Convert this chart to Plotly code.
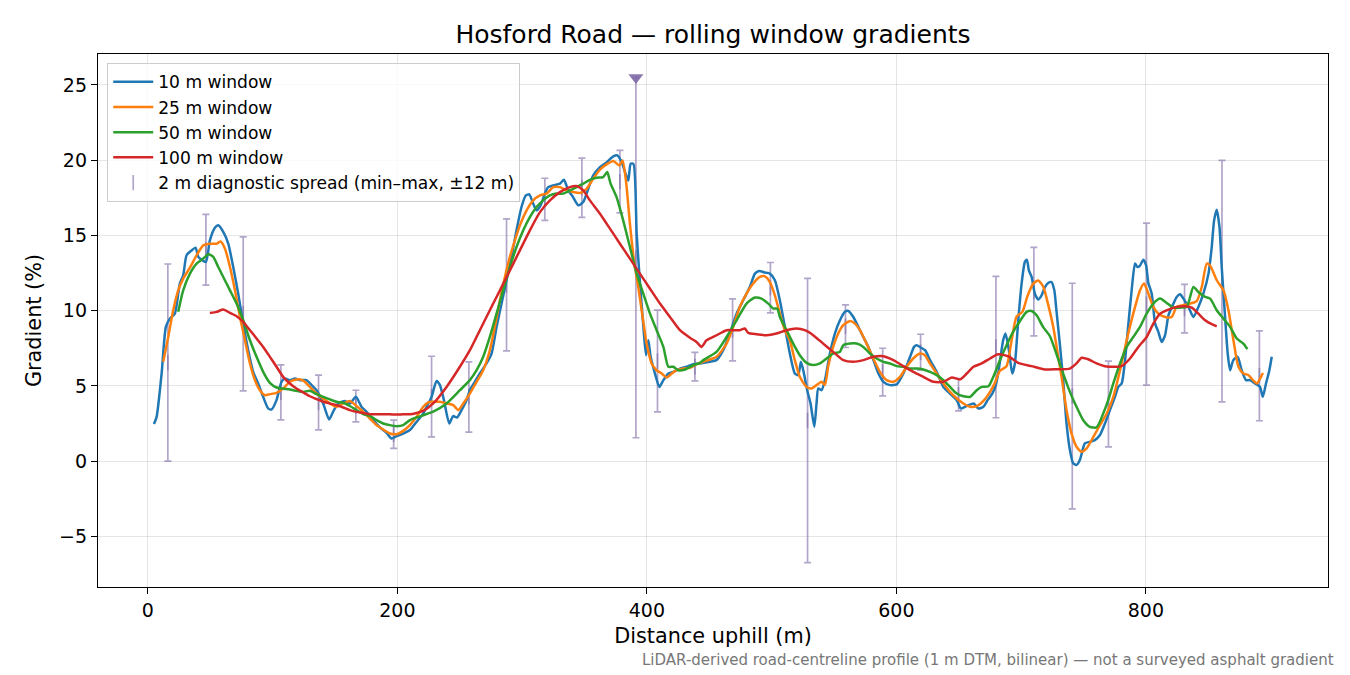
import plotly.graph_objects as go

# ---------------- data ----------------
w10_x = [4.8, 7.0, 11, 14.4, 17.6, 21.6, 25.6, 28.3, 31, 35, 38.2, 40.4, 43, 46.5, 49.7, 53.7, 56.4, 60.4, 64.4, 68.4,
         72.4, 76.4, 80.4, 84.4, 88.4, 92.4, 96.4, 99.1, 103.1, 107.1, 109.8, 113.8, 117.8, 121.8, 127.1, 131.2, 135.2,
         140.5, 145.3, 149.1, 152.6, 157.9, 161.9, 166.7, 171.3, 175.3, 180.6, 186, 191.3, 195.3, 199.3, 204.7, 210,
         215.4, 220.7, 223.4, 227.4, 231.4, 234.1, 237.3, 241.6, 244.7, 247.9, 251.4, 255.4, 258.1, 262.1, 266.1, 271.4,
         275.5, 279.5, 283.5, 287.5, 291.5, 295.5, 299.5, 303, 305.7, 308.9, 311.6, 314.8, 318.2, 320.9, 324.9, 330.3,
         333.5, 337, 340.4, 345, 349, 353, 357, 362.4, 367.8, 373.1, 376.3, 379.8, 382.5, 385.1, 387, 389.2, 391.8,
         394.5, 397.2, 399.3, 401.2, 403, 406.5, 410, 413.2, 417.2, 421.2, 426.5, 431.9, 437.2, 442.5, 450.5, 455.8,
         461.2, 466.5, 471.9, 477.2, 482.5, 486.6, 490, 494.6, 498.6, 502.6, 506.6, 510.6, 514.6, 518.6, 521.3, 523.5,
         525.9, 528.5, 531.2, 534.2, 536, 537.4, 540, 542.7, 546.7, 550.7, 554.8, 558.8, 561.5, 565.5, 569.5, 573.5,
         577.5, 581.6, 585.6, 589.6, 594.9, 600.3, 605.6, 611, 614.2, 616.3, 619.5, 623, 627, 632.3, 637.7, 643, 648.4,
         651.6, 655.1, 661.8, 665.8, 669.8, 673.5, 677, 679.5, 681.6, 685.6, 687.5, 690.2, 692.9, 695, 697.7, 700.4,
         703, 704.6, 706.2, 708.4, 711, 713.7, 716.4, 719.1, 721.7, 724.4, 726.6, 728.2, 731, 733.8, 736.4, 739.1,
         741.7, 744.4, 747.1, 751.1, 755.1, 759.1, 763.2, 767.2, 771.2, 775.2, 777.9, 780.6, 783.3, 786, 788.6, 791.3,
         793.2, 795.3, 798, 800.2, 802, 804.7, 807.4, 810, 812.7, 815.4, 818.1, 822.1, 824.7, 827.4, 830.1, 834.1,
         838.1, 842.1, 846.1, 850.2, 852.8, 854.7, 856.8, 859, 860.8, 863.5, 865.6, 867.5, 870.1, 873.6, 876.8, 880.3,
         883.5, 887.5, 891.5, 893.7, 896.3, 899, 900.9]
w10_y = [2.46, 2.94, 5.82, 8.92, 9.47, 9.8, 11.8, 12.35, 13.68, 14.0, 14.19, 13.57, 13.39, 13.24, 14.67, 15.51, 15.67,
         15.23, 14.45, 12.9, 11.13, 9.14, 7.37, 5.93, 5.16, 4.27, 3.5, 3.43, 4.05, 5.27, 5.49, 5.38, 5.49, 5.38, 5.38,
         5.05, 4.71, 3.83, 2.77, 3.39, 3.83, 4.0, 3.83, 4.27, 3.6, 3.27, 2.72, 2.24, 1.88, 1.5, 1.66, 1.83, 2.06, 2.61,
         3.16, 3.61, 4.27, 5.33, 5.05, 4.05, 2.5, 2.99, 2.9, 3.39, 4.05, 4.71, 5.27, 5.82, 6.49, 7.15, 8.92, 10.47,
         12.02, 13.57, 15.34, 16.89, 17.66, 17.73, 17.11, 16.67, 17.0, 17.78, 18.21, 18.32, 18.44, 18.7, 17.99, 17.6,
         17.0, 17.22, 18.1, 18.99, 19.54, 19.87, 20.25, 20.32, 19.87, 19.21, 18.65, 19.76, 19.76, 15.12, 11.8, 8.92,
         7.04, 8.03, 6.93, 5.82, 4.93, 5.38, 5.82, 5.93, 6.15, 6.27, 6.44, 6.49, 6.6, 6.71, 7.37, 8.48, 9.8, 10.69,
         11.57, 12.46, 12.64, 12.53, 12.46, 12.02, 10.69, 8.92, 7.15, 5.82, 5.71, 6.6, 5.82, 4.71, 3.83, 2.28, 3.83,
         4.83, 4.71, 5.38, 7.15, 8.48, 9.36, 9.92, 9.98, 9.58, 8.92, 8.25, 7.59, 6.71, 5.82, 5.27, 5.05, 5.1, 5.82,
         6.93, 7.59, 7.7, 7.55, 7.37, 6.71, 5.93, 4.93, 4.49, 4.05, 3.5, 3.61, 3.83, 3.5, 3.61, 4.1, 4.5, 5.0, 5.82,
         8.03, 8.48, 7.37, 5.82, 6.49, 9.36, 11.8, 13.24, 13.39, 12.68, 12.24, 11.13, 10.74, 11.02, 11.57, 11.84,
         11.9, 11.35, 10.1, 7.8, 5.3, 2.5, 0.73, -0.15, -0.26, 0.07, 1.17, 1.28, 1.39, 1.73, 2.5, 3.39, 4.27, 4.93,
         5.16, 6.71, 9.14, 11.35, 13.13, 12.9, 13.0, 13.39, 13.0, 11.84, 11.13, 9.14, 8.59, 7.92, 8.37, 9.69, 10.47,
         10.91, 11.09, 10.8, 10.25, 9.58, 10.25, 11.13, 12.46, 14.23, 16.0, 16.71, 15.56, 12.9, 9.58, 7.15, 6.04,
         6.71, 6.93, 6.04, 5.38, 5.38, 5.16, 4.93, 4.27, 5.16, 6.04, 6.93]

w25_x = [12.3, 16.3, 20.3, 24.3, 28.3, 33.7, 39, 44.4, 49.7, 55.1, 58.3, 61.8, 65.8, 69.8, 73.8, 77.8, 81.8, 85.8, 89.8,
         93.8, 97.8, 103.1, 108.4, 113.8, 119.1, 124.5, 129.8, 135.2, 140.5, 145.9, 151.2, 156.6, 161.9, 167.2, 172.6,
         177.9, 183.3, 188.6, 194, 199.3, 204.7, 210, 215.4, 220.7, 224.7, 228.7, 234.1, 239.4, 244.7, 248.8, 252.8,
         258.1, 263.5, 268.8, 274.1, 278.1, 282.2, 286.2, 290.2, 294.2, 298.2, 303.6, 308.9, 314.3, 319.6, 324.9,
         330.3, 335.6, 341, 346.3, 351.6, 357, 362.4, 367.7, 373.1, 377.9, 380.5, 383.2, 386.4, 389.6, 393.1, 396.6,
         399.8, 403.8, 407.8, 411.9, 415.9, 419.9, 423.9, 429.3, 434.6, 440, 445.2, 455.8, 463.9, 469.2, 474.5, 479.9,
         485.2, 490.6, 494.6, 498.6, 502.6, 506.6, 510.6, 514.6, 518.6, 522.6, 528, 532, 536, 540, 542.7, 545.3,
         549.3, 553.4, 557.4, 562.8, 566.8, 570.8, 576.1, 581.5, 586.8, 592.2, 597.5, 602.9, 608.2, 613.5, 618.9,
         622.9, 626.9, 632.3, 637.7, 643, 648.4, 653.7, 659.1, 664.4, 669.8, 675.1, 679, 683, 688.3, 692.3, 696.3, 701,
         705, 709.7, 713.7, 717.7, 721.7, 725.8, 729.8, 732.4, 736.4, 740.4, 744.4, 748.5, 752.5, 757.9, 763.2, 768.6,
         773.9, 779.3, 784.6, 789.9, 795.3, 798.5, 802, 806, 810, 815.4, 820.7, 824.7, 830.1, 835.4, 840.8, 844.8,
         848.8, 851.5, 856.8, 862.2, 866.2, 870.2, 874.2, 878.2, 882.3, 885.8, 889, 891.6, 893.8]
w25_y = [6.6, 8.25, 10.03, 11.35, 12.13, 12.86, 13.68, 14.34, 14.45, 14.45, 14.6, 14.12, 12.9, 11.35, 9.58, 8.03, 6.49,
         5.38, 4.71, 4.38, 4.45, 4.54, 4.82, 5.27, 5.43, 5.35, 4.93, 4.49, 4.16, 3.83, 3.61, 3.83, 4.0, 3.66, 3.27,
         2.83, 2.39, 2.1, 1.83, 1.79, 2.01, 2.39, 2.94, 3.61, 3.9, 3.94, 3.94, 3.83, 3.72, 3.39, 3.83, 4.49, 5.27,
         6.04, 7.37, 8.92, 10.69, 12.24, 13.57, 14.67, 15.67, 16.67, 17.33, 17.66, 17.78, 18.21, 18.21, 17.99, 17.88,
         17.82, 18.1, 18.77, 19.37, 19.72, 19.94, 19.65, 19.98, 18.65, 15.78, 13.35, 11.57, 9.58, 7.81, 6.49, 6.04,
         5.82, 5.56, 5.82, 6.04, 6.15, 6.2, 6.44, 6.6, 6.93, 7.81, 8.92, 10.25, 11.13, 11.8, 12.24, 12.28, 11.9,
         11.02, 9.8, 8.7, 8.03, 6.71, 5.6, 4.93, 4.83, 5.05, 5.27, 5.05, 6.27, 7.59, 8.48, 9.03, 9.32, 9.14, 8.7, 7.81,
         6.82, 5.93, 5.38, 5.27, 5.6, 6.27, 6.82, 7.15, 7.04, 6.49, 5.82, 5.16, 4.6, 4.16, 3.83, 3.61, 3.65, 4.0, 4.6,
         5.2, 6.0, 6.3, 8.0, 9.6, 9.92, 10.95, 11.8, 12.0, 11.6, 10.4, 8.9, 6.9, 5.6, 3.4, 1.84, 0.95, 0.62, 0.84,
         1.61, 2.39, 3.16, 4.27, 6.04, 8.03, 9.8, 11.35, 11.8, 11.13, 10.25, 9.8, 9.58, 9.58, 10.25, 10.36, 10.47,
         10.64, 11.57, 13.13, 13.0, 12.02, 11.35, 10.03, 8.03, 6.27, 5.82, 5.71, 5.38, 5.16, 5.49, 5.86]

w50_x = [24.3, 28.3, 33.7, 39, 44.4, 48.4, 52.4, 56.4, 60.4, 65.8, 71.1, 76.4, 81.8, 87.1, 92.4, 97.8, 103.1, 108.4,
         113.8, 119.1, 124.5, 129.8, 135.2, 140.5, 145.9, 151.2, 156.6, 161.9, 167.2, 172.6, 177.9, 183.3, 188.6, 194,
         199.3, 204.7, 210, 215.4, 220.7, 228.7, 239.4, 250.1, 258.1, 263.5, 268.8, 274.1, 279.5, 284.8, 290.2, 295.5,
         300.9, 306.2, 311.6, 316.9, 322.3, 327.6, 333, 338.3, 343.6, 349, 354.3, 359.7, 365, 368.2, 370.9, 375.7,
         381, 386.4, 391.8, 397.1, 402.5, 407.8, 413.2, 417.2, 421.2, 425.2, 430.6, 437.2, 442.5, 445.2, 455.8, 463.9,
         471.9, 479.9, 486.6, 491.9, 497.3, 501.3, 504.5, 506.6, 512, 517.3, 522.6, 528, 533.3, 538.7, 544, 549.3,
         554.7, 557.4, 562.8, 568.1, 573.5, 578.8, 584.2, 589.6, 594.9, 600.3, 605.6, 611, 616.3, 621.6, 627, 632.3,
         637.7, 643, 648.4, 653.7, 659.1, 664.4, 668.4, 673.8, 677.7, 683, 688.3, 693.7, 699, 704.4, 708.4, 712.4,
         717.7, 723.1, 728.4, 733.8, 739.1, 744.4, 749.8, 755.1, 760.5, 765.8, 769.8, 773.9, 779.3, 784.6, 789.9,
         795.3, 800.6, 806, 811.4, 816.7, 822.1, 827.4, 832.8, 838.1, 842.1, 847.5, 851.5, 856.8, 862.2, 867.5, 872.9,
         878.2, 881.4]
w50_y = [9.92, 11.35, 12.46, 13.13, 13.46, 13.75, 13.57, 12.9, 12.24, 11.35, 10.47, 9.36, 8.03, 6.93, 5.93, 5.2, 4.89,
         4.82, 4.76, 4.67, 4.6, 4.67, 4.45, 4.27, 4.1, 3.94, 3.88, 3.66, 3.39, 3.13, 3.0, 2.72, 2.5, 2.39, 2.32, 2.39,
         2.72, 2.9, 3.05, 3.28, 3.83, 4.71, 5.38, 6.04, 6.93, 8.25, 9.8, 11.35, 12.9, 14.23, 15.34, 16.22, 16.89,
         17.33, 17.66, 17.78, 17.78, 17.99, 18.21, 18.44, 18.7, 18.84, 18.88, 19.21, 18.44, 17.55, 16.0, 14.23, 12.46,
         11.13, 9.8, 8.7, 7.59, 6.27, 6.27, 6.04, 6.09, 6.37, 6.53, 6.71, 7.26, 8.25, 9.36, 10.47, 10.87, 10.8, 10.47,
         10.14, 10.14, 9.58, 8.7, 7.81, 7.04, 6.53, 6.38, 6.49, 6.82, 7.15, 7.26, 7.7, 7.81, 7.81, 7.59, 7.15, 6.82,
         6.6, 6.49, 6.31, 6.27, 6.15, 6.15, 6.09, 5.93, 5.71, 5.38, 4.93, 4.49, 4.31, 4.27, 4.71, 4.93, 4.97, 5.6, 6.7,
         7.7, 8.6, 9.3, 9.92, 9.98, 9.69, 8.9, 8.3, 7.1, 5.8, 4.6, 3.61, 2.72, 2.28, 2.24, 3.16, 4.05, 5.16, 6.49,
         7.59, 8.25, 8.92, 9.8, 10.47, 10.8, 10.51, 10.2, 10.2, 10.25, 11.57, 11.24, 10.91, 10.8, 10.03, 9.47, 8.92,
         8.15, 7.81, 7.44]

w100_x = [49.7, 55.1, 60.4, 65.8, 71.1, 76.4, 81.8, 87.1, 92.4, 97.8, 103.1, 108.4, 113.8, 119.1, 124.5, 129.8, 135.2,
          140.5, 145.9, 151.2, 156.6, 161.9, 167.2, 172.6, 177.9, 183.3, 188.6, 194, 199.3, 204.7, 210, 215.4, 220.7,
          228.7, 239.4, 250.1, 258.1, 266.1, 274.1, 282.2, 290.2, 298.2, 306.2, 314.3, 322.3, 330.3, 338.3, 343.6,
          349, 354.3, 362.4, 370.4, 378.4, 386.4, 394.4, 402.5, 410.5, 418.5, 426.5, 434.5, 439.8, 443.8, 447.8, 453.2,
          458.5, 463.9, 469.2, 474.5, 478.5, 481.2, 487.9, 495.9, 503.9, 511.9, 519.9, 526.6, 533.3, 541.3, 549.3,
          557.4, 565.4, 573.5, 581.5, 589.6, 597.6, 605.6, 613.6, 621.6, 629.7, 637.7, 644.4, 651.1, 656.4, 661.8,
          668.4, 675.1, 681.6, 689.6, 697.7, 708.4, 719.1, 728.4, 739.1, 744.4, 748.5, 753.8, 760.5, 767.2, 773.9,
          780.6, 787.3, 794, 800.6, 806, 811.4, 818.1, 824.7, 831.4, 836.8, 842.1, 847.5, 852.8, 856.8]
w100_y = [9.85, 9.92, 10.07, 9.85, 9.63, 9.25, 8.7, 8.15, 7.59, 6.93, 6.27, 5.6, 5.16, 4.82, 4.56, 4.31, 4.12, 3.94,
          3.83, 3.72, 3.56, 3.39, 3.27, 3.2, 3.11, 3.11, 3.11, 3.11, 3.09, 3.11, 3.11, 3.2, 3.33, 3.83, 4.93, 6.27,
          7.37, 8.7, 10.03, 11.35, 12.68, 14.01, 15.34, 16.55, 17.33, 17.88, 18.21, 18.28, 17.99, 17.33, 16.44, 15.45,
          14.45, 13.46, 12.46, 11.46, 10.47, 9.58, 8.7, 8.2, 7.92, 7.59, 8.03, 8.25, 8.48, 8.7, 8.7, 8.7, 8.81, 8.52,
          8.43, 8.37, 8.48, 8.7, 8.81, 8.7, 8.37, 7.81, 7.26, 6.71, 6.6, 6.71, 6.93, 6.97, 6.71, 6.31, 5.93, 5.6,
          5.27, 5.27, 5.56, 5.43, 5.82, 6.27, 6.49, 6.82, 7.1, 6.97, 6.53, 6.31, 6.09, 6.11, 6.15, 6.49, 6.87, 6.77,
          6.49, 6.31, 6.27, 6.31, 6.82, 7.59, 8.25, 9.14, 9.8, 10.07, 10.25, 10.29, 10.2, 9.8, 9.36, 9.1, 8.96]

# 2 m diagnostic spread (min / max within +-12 m)
spread_x = [16, 46.5, 76.4, 106.6, 136.8, 166.7, 197, 227.4, 257.3, 287.5, 318.2, 347.9, 378.4, 391.2, 408.5, 438.5,
            468.7, 499, 528.8, 559.2, 589, 619.4, 649.8, 679.8, 710.2, 741, 770, 800.5, 831, 861, 891]
spread_lo = [0.0, 11.7, 4.67, 2.74, 2.08, 2.61, 0.84, 1.61, 1.93, 7.32, 16.0, 16.2, 16.5, 1.55, 3.27, 5.33, 6.66, 9.85,
             -6.75, 7.55, 4.34, 6.04, 3.34, 2.88, 8.32, -3.18, 0.95, 5.05, 8.52, 3.94, 2.68]
spread_hi = [13.1, 16.4, 14.9, 6.4, 5.71, 4.71, 2.72, 6.97, 6.6, 16.1, 18.8, 20.14, 20.65, 25.5, 10.03, 7.22, 10.78,
             13.2, 12.15, 10.38, 7.5, 8.43, 5.49, 12.28, 14.2, 11.82, 6.64, 15.82, 11.75, 19.99, 8.65]
clipped_x = [391.2]
clipped_y = [25.5]

title_text = "Hosford Road — rolling window gradients"
x_title = "Distance uphill (m)"
y_title = "Gradient (%)"
footnote = "LiDAR-derived road-centreline profile (1 m DTM, bilinear) — not a surveyed asphalt gradient"

# ---------------- figure ----------------
FONT = "DejaVu Sans"
SPREAD_COL = "rgba(125,105,165,0.6)"
# the page body has an 8 px margin, so the figure is sized/placed to compensate
W, H = 1342, 667

mid = [(a + b) / 2 for a, b in zip(spread_lo, spread_hi)]
err_plus = [b - m for b, m in zip(spread_hi, mid)]
err_minus = [m - a for a, m in zip(spread_lo, mid)]

fig = go.Figure()

fig.add_trace(go.Scatter(
    x=spread_x, y=mid, mode="markers", name="2 m diagnostic spread (min–max, ±12 m)",
    marker=dict(symbol="line-ns-open", size=11, color=SPREAD_COL, line=dict(color=SPREAD_COL, width=1.7)),
    error_y=dict(type="data", symmetric=False, array=err_plus, arrayminus=err_minus,
                 color=SPREAD_COL, thickness=1.7, width=3.5),
    legendgroup="e", legendrank=5, hoverinfo="skip"))

fig.add_trace(go.Scatter(
    x=clipped_x, y=clipped_y, mode="markers", showlegend=False,
    marker=dict(symbol="triangle-down", size=13, color="rgba(125,105,165,0.9)", line=dict(width=0))))

series = [
    (w10_x, w10_y, "10 m window", "#1f77b4"),
    (w25_x, w25_y, "25 m window", "#ff7f0e"),
    (w50_x, w50_y, "50 m window", "#2ca02c"),
    (w100_x, w100_y, "100 m window", "#d62728"),
]
for i, (xs, ys, nm, col) in enumerate(series):
    fig.add_trace(go.Scatter(
        x=xs, y=ys, mode="lines", name=nm, line=dict(color=col, width=2.5, shape="spline", smoothing=0.6),
        legendgroup=nm, legendrank=i + 1))

axis_common = dict(
    showline=True, linecolor="black", linewidth=1.3, mirror=True,
    ticks="outside", ticklen=6, tickwidth=1.3, tickcolor="black",
    showgrid=True, gridcolor="rgba(0,0,0,0.10)", gridwidth=1,
    zeroline=False, tickfont=dict(family=FONT, size=19, color="black"),
)

fig.update_layout(
    width=W, height=H,
    margin=dict(l=90, r=22, t=46, b=88),
    paper_bgcolor="white", plot_bgcolor="white",
    font=dict(family=FONT, color="black"),
    title=dict(text=title_text, x=0.5, xref="paper", xanchor="center", y=1 - 26 / H, yanchor="middle",
               font=dict(family=FONT, size=25, color="black")),
    xaxis=dict(range=[-40, 946], tickvals=[0, 200, 400, 600, 800],
               title=dict(text=x_title, font=dict(family=FONT, size=20.8), standoff=8), **axis_common),
    yaxis=dict(range=[-8.37, 27.06], tickvals=[-5, 0, 5, 10, 15, 20, 25],
               ticktext=["−5", "0", "5", "10", "15", "20", "25"],
               title=dict(text=y_title, font=dict(family=FONT, size=20.8), standoff=11), **axis_common),
    legend=dict(x=0.0075, y=0.983, xanchor="left", yanchor="top", bgcolor="rgba(255,255,255,0.8)",
                bordercolor="#cccccc", borderwidth=1, font=dict(family=FONT, size=17.1, color="black"),
                traceorder="grouped", tracegroupgap=0, itemwidth=40),
    showlegend=True,
    annotations=[dict(text=footnote, xref="paper", yref="paper", x=1.0065, y=-0.137,
                      xanchor="right", yanchor="middle", showarrow=False,
                      font=dict(family=FONT, size=15, color="#777777"))],
)

fig.write_html("out.html")
